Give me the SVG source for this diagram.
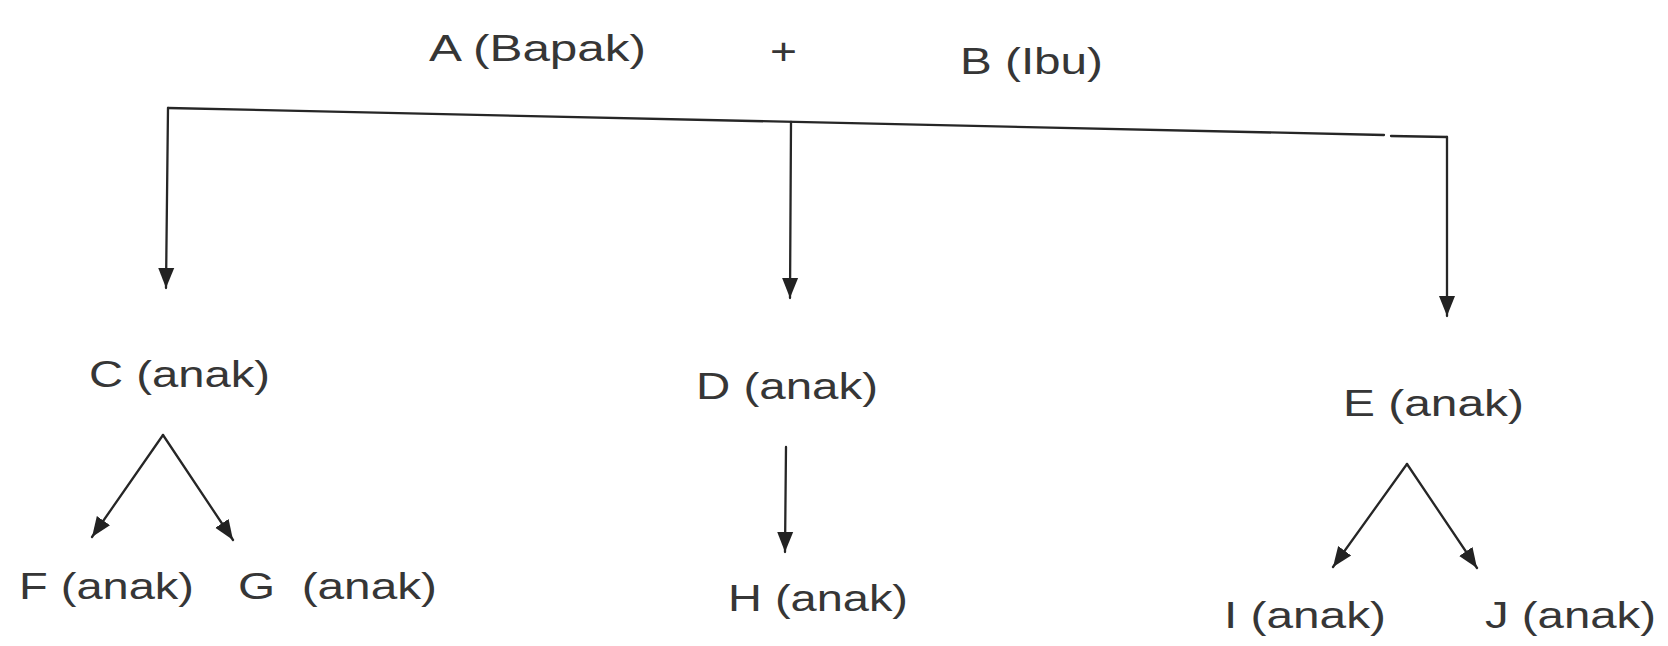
<svg xmlns="http://www.w3.org/2000/svg" width="1668" height="646" viewBox="0 0 1668 646">
<style>
.t{font-family:"Liberation Sans",Arial,sans-serif;font-size:37px;fill:#363636;}
.c{fill:none;stroke:#262626;stroke-width:2.3;stroke-linecap:round;}
.a{marker-end:url(#ah);}
</style>
<defs>
<marker id="ah" markerUnits="userSpaceOnUse" markerWidth="22" markerHeight="20" viewBox="0 0 22 20" refX="20" refY="9" orient="auto">
<path d="M0,1 L20,9 L0,17 Z" fill="#222"/>
</marker>
</defs>
<rect width="1668" height="646" fill="#ffffff"/>
<g id="connectors">
<path class="c" d="M168,108 L1384,135"/>
<path class="c" d="M1391,136 L1447,137"/>
<path class="c a" d="M168,108 L166,288"/>
<path class="c a" d="M791,122 L790,298"/>
<path class="c a" d="M1447,137 L1447,316"/>
<path class="c a" d="M163,435 L92,537"/>
<path class="c a" d="M163,435 L233,540"/>
<path class="c a" d="M786,447 L785,552"/>
<path class="c a" d="M1407,464 L1333,567"/>
<path class="c a" d="M1407,464 L1477,568"/>
</g>
<g id="nodeA"><text class="t" x="429" y="61" textLength="217" lengthAdjust="spacingAndGlyphs">A (Bapak)</text></g>
<g id="plus"><text class="t" x="770" y="64" textLength="27" lengthAdjust="spacingAndGlyphs">+</text></g>
<g id="nodeB"><text class="t" x="960" y="74" textLength="143" lengthAdjust="spacingAndGlyphs">B (Ibu)</text></g>
<g id="nodeC"><text class="t" x="89" y="387" textLength="181" lengthAdjust="spacingAndGlyphs">C (anak)</text></g>
<g id="nodeD"><text class="t" x="696" y="399" textLength="182" lengthAdjust="spacingAndGlyphs">D (anak)</text></g>
<g id="nodeE"><text class="t" x="1343" y="416" textLength="181" lengthAdjust="spacingAndGlyphs">E (anak)</text></g>
<g id="nodeF"><text class="t" x="19" y="599" textLength="175" lengthAdjust="spacingAndGlyphs">F (anak)</text></g>
<g id="nodeG"><text class="t" x="238" y="599" textLength="199" lengthAdjust="spacingAndGlyphs" xml:space="preserve">G  (anak)</text></g>
<g id="nodeH"><text class="t" x="728" y="611" textLength="180" lengthAdjust="spacingAndGlyphs">H (anak)</text></g>
<g id="nodeI"><text class="t" x="1224" y="628" textLength="162" lengthAdjust="spacingAndGlyphs">I (anak)</text></g>
<g id="nodeJ"><text class="t" x="1485" y="628" textLength="171" lengthAdjust="spacingAndGlyphs">J (anak)</text></g>
</svg>
